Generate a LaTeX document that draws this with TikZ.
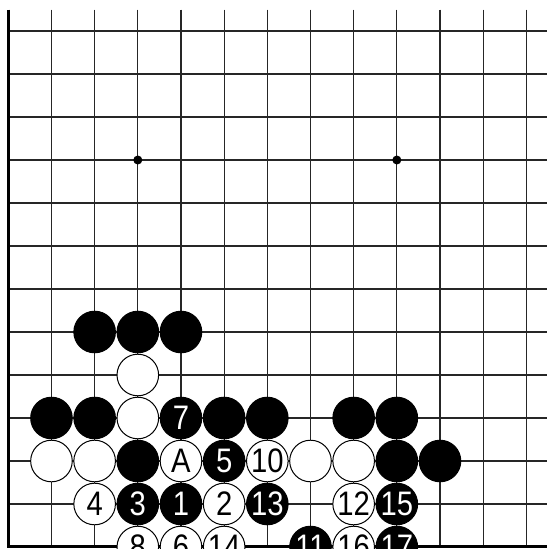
\documentclass[tikz,border=0pt]{standalone}
\usepackage{fontspec}
\setmainfont{Liberation Sans}
\newfontfamily\stonefont[FakeStretch=0.86]{Liberation Sans}
\begin{document}
\begin{tikzpicture}[x=1pt,y=-1pt,
  gridline/.style={line width=1.1pt, black!85},
  edgeline/.style={line width=3pt},
  stone/.style={circle, minimum size=41.6pt, inner sep=0pt, line width=1pt,
    font=\stonefont\fontsize{34}{34}\selectfont},
  bstone/.style={stone, draw=black, fill=black, text=white},
  wstone/.style={stone, draw=black, fill=white, text=black},
  hoshi/.style={circle, fill=black, minimum size=9pt, inner sep=0pt}]
\useasboundingbox (0,0) rectangle (547,549);
\clip (0,0) rectangle (547,549);
\fill[white] (0,0) rectangle (547,549);
\foreach \c in {1,...,12}
  \draw[gridline] ({8.3+43.17*\c},9.5) -- ({8.3+43.17*\c},546.7);
\foreach \r in {0,...,11}
  \draw[gridline] (8.3,{31+43*\r}) -- (547,{31+43*\r});
\draw[edgeline] (8.3,9.5) -- (8.3,546.7) -- (547,546.7);
\node[hoshi] (h1) at ({8.3+43.17*3},{31+43*3}) {};
\node[hoshi] (h2) at ({8.3+43.17*9},{31+43*3}) {};
\foreach \c/\r/\t in {2/7/{},3/7/{},4/7/{},1/9/{},2/9/{},4/9/7,5/9/{},6/9/{},8/9/{},9/9/{},
  3/10/{},5/10/5,9/10/{},10/10/{},3/11/3,4/11/1,6/11/13,9/11/15,7/12/11,9/12/17}
  \node[bstone] (b\c-\r) at ({8.3+43.17*\c},{31+43*\r}) {\t};
\foreach \c/\r/\t in {3/8/{},3/9/{},1/10/{},2/10/{},4/10/A,6/10/10,7/10/{},8/10/{},
  2/11/4,5/11/2,8/11/12,3/12/8,4/12/6,5/12/14,8/12/16}
  \node[wstone] (w\c-\r) at ({8.3+43.17*\c},{31+43*\r}) {\t};
\end{tikzpicture}
\end{document}
